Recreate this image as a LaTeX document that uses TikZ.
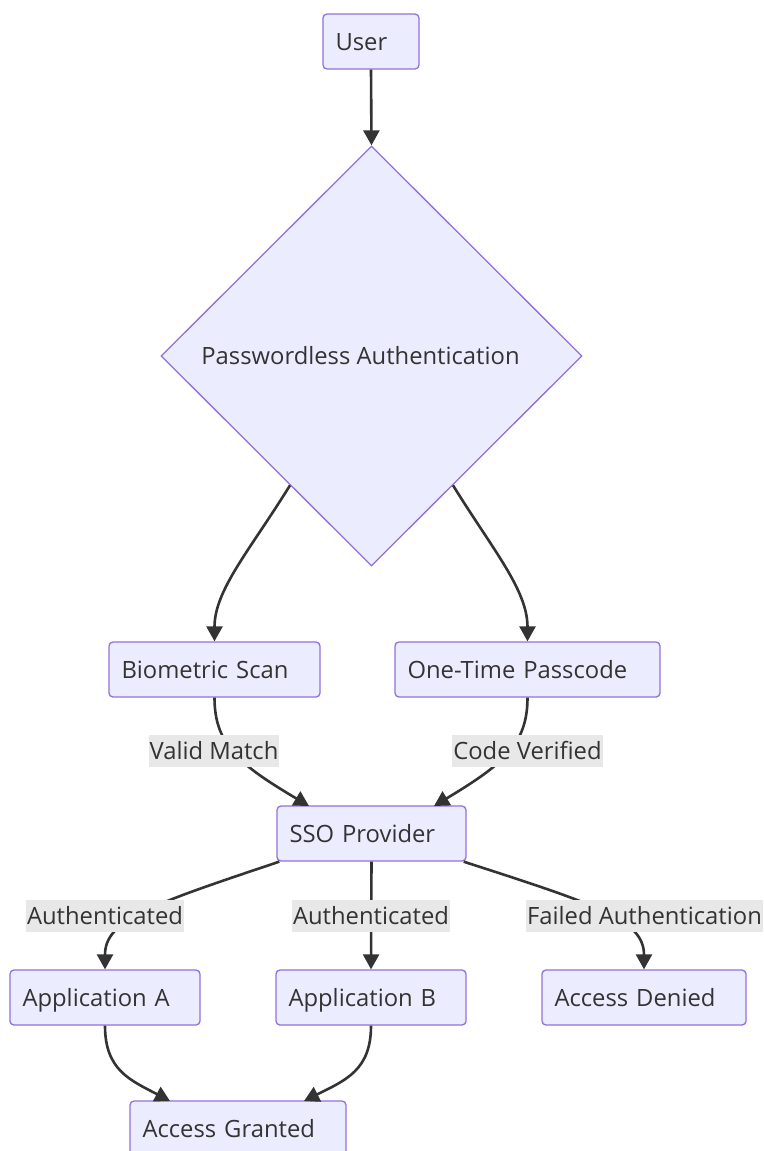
\documentclass[tikz,border=0pt]{standalone}
\usepackage{fontspec}
\setmainfont{Open Sans}
\usetikzlibrary{arrows.meta,shapes.geometric,calc}
\definecolor{boxfill}{HTML}{ECECFF}
\definecolor{boxborder}{HTML}{9370DB}
\definecolor{linec}{HTML}{333333}
\definecolor{textc}{HTML}{333333}
\definecolor{labelbg}{HTML}{E8E8E8}
\begin{document}
\begin{tikzpicture}[x=1pt,y=-1pt,
  every node/.style={font=\fontsize{23.8}{28}\selectfont, text=textc},
  box/.style={draw=boxborder, fill=boxfill, rounded corners=4pt, line width=1.3pt,
    minimum height=55pt, inner xsep=12.5pt, inner ysep=0pt, align=left,
    text height=20pt, text depth=2pt},
  edge/.style={draw=linec, line width=2.6pt, -{Triangle[length=15pt,width=16pt]}},
  elabel/.style={fill=labelbg, inner xsep=1pt, inner ysep=0pt, minimum height=32pt}]
\useasboundingbox (0,0) rectangle (763,1151);
\fill[white] (0,0) rectangle (763,1151);
% nodes
\node[box, text width=71pt] (user) at (371,41.5) {User};
\node[diamond, draw=boxborder, fill=boxfill, line width=1.3pt, minimum width=421pt, minimum height=420pt, inner sep=0pt] (dia) at (371.5,356) {};
\node (dtext) at (360.5,356) {Passwordless Authentication};
\node[box, text width=186pt] (bio) at (214.5,669.5) {Biometric Scan};
\node[box, text width=240pt] (otp) at (527.5,669.5) {One-Time Passcode};
\node[box, text width=164pt] (sso) at (371.5,833.5) {SSO Provider};
\node[box, text width=165pt] (appa) at (105,997.5) {Application A};
\node[box, text width=165pt] (appb) at (371,997.5) {Application B};
\node[box, text width=179pt] (denied) at (644,997.5) {Access Denied};
\node[box, text width=191pt] (granted) at (238,1128.5) {Access Granted};
% coordinates
\coordinate (dl) at ($(dia.west)!0.614!(dia.south)$);
\coordinate (dr) at ($(dia.east)!0.614!(dia.south)$);
\coordinate (ssoL) at ($(sso.south west)+(3,0)$);
\coordinate (ssoR) at ($(sso.south east)+(-3,0)$);
\coordinate (ssoInL) at (309,806);
\coordinate (ssoInR) at (434,806);
\coordinate (grL) at (170,1101);
\coordinate (grR) at (304,1101);
% edges
\draw[edge] (user.south) -- (dia.north);
\draw[edge] (dl) .. controls (250,550) and (214.5,590) .. (bio.north);
\draw[edge] (dr) .. controls (493,550) and (527.5,590) .. (otp.north);
\draw[edge] (bio.south) .. controls (214.5,745) and (240,765) .. (ssoInL);
\draw[edge] (otp.south) .. controls (527.5,745) and (502,765) .. (ssoInR);
\draw[edge] (ssoL) .. controls (150,905) and (105,920) .. (105,955) -- (appa.north);
\draw[edge] (sso.south) -- (appb.north);
\draw[edge] (ssoR) .. controls (598,905) and (644,920) .. (644,955) -- (denied.north);
\draw[edge] (appa.south) .. controls (105,1070) and (130,1080) .. (grL);
\draw[edge] (appb.south) .. controls (371,1070) and (346,1080) .. (grR);
% edge labels
\node[elabel] (l1) at (214,751) {Valid Match};
\node[elabel] (l2) at (527.5,751) {Code Verified};
\node[elabel] (l3) at (105,916) {Authenticated};
\node[elabel] (l4) at (371,916) {Authenticated};
\node[elabel] (l5) at (644.5,916) {Failed Authentication};
\end{tikzpicture}
\end{document}
